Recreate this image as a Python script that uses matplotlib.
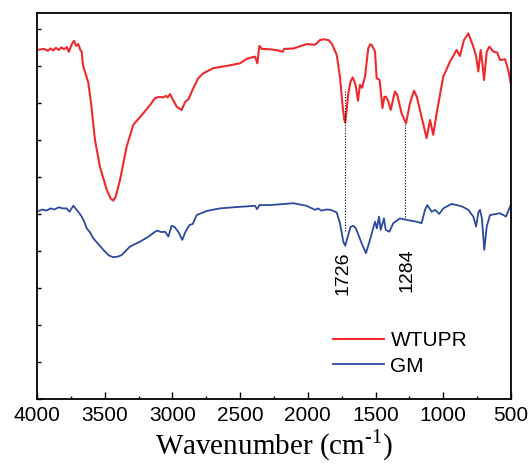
"""FTIR spectra of WTUPR and GM."""
import matplotlib
matplotlib.use("Agg")
import matplotlib.pyplot as plt
from matplotlib.ticker import MultipleLocator, NullFormatter

# ---------------------------------------------------------------------------
# Data (arbitrary transmittance units)
# ---------------------------------------------------------------------------

wtupr_wn = [4000, 3950, 3920, 3900, 3880, 3860, 3840, 3820, 3800, 3780, 3765, 3745,
            3727, 3710, 3695, 3680, 3670, 3665, 3658, 3640, 3621, 3600, 3572, 3535,
            3485, 3455, 3437, 3420, 3387, 3338, 3289, 3215, 3160, 3129, 3100, 3067,
            3050, 3035, 3018, 2995, 2969, 2950, 2932, 2907, 2880, 2846, 2809, 2772,
            2698, 2600, 2501, 2452, 2390, 2373, 2358, 2340, 2280, 2220, 2185, 2175,
            2107, 2009, 1947, 1910, 1880, 1849, 1824, 1787, 1763, 1743, 1730, 1724,
            1715, 1701, 1685, 1669, 1655, 1645, 1630, 1615, 1600, 1578, 1554, 1540,
            1529, 1504, 1492, 1470, 1449, 1435, 1423, 1405, 1388, 1357, 1340, 1308,
            1275, 1246, 1216, 1195, 1149, 1123, 1098, 1074, 1049, 1000, 950, 901,
            877, 847, 815, 778, 758, 741, 724, 710, 699, 679, 660, 630, 601, 581,
            544, 520, 500]
wtupr_t = [9.43, 9.46, 9.41, 9.47, 9.42, 9.49, 9.43, 9.50, 9.45, 9.51, 9.38, 9.57,
           9.68, 9.54, 9.59, 9.43, 9.39, 9.16, 8.98, 8.78, 8.54, 7.97, 7.00, 6.27,
           5.65, 5.41, 5.36, 5.46, 5.92, 6.82, 7.41, 7.72, 7.97, 8.13, 8.16, 8.15,
           8.19, 8.15, 8.24, 8.08, 7.90, 7.85, 7.81, 8.02, 8.11, 8.40, 8.67, 8.80,
           8.94, 9.00, 9.07, 9.19, 9.25, 9.07, 9.54, 9.46, 9.45, 9.42, 9.38, 9.46,
           9.47, 9.59, 9.57, 9.70, 9.72, 9.70, 9.61, 9.30, 8.71, 7.90, 7.54, 7.47,
           7.76, 8.26, 8.57, 8.69, 8.57, 8.44, 8.06, 8.49, 8.41, 8.71, 9.48, 9.58,
           9.57, 9.39, 8.67, 8.62, 7.86, 8.16, 8.17, 8.03, 7.81, 8.31, 8.22, 7.72,
           7.45, 7.99, 8.33, 8.16, 7.45, 7.05, 7.54, 7.14, 7.72, 8.71, 9.12, 9.43,
           9.27, 9.70, 9.88, 9.52, 9.27, 8.85, 9.43, 9.03, 8.62, 9.39, 9.52, 9.39,
           9.36, 9.16, 9.18, 8.89, 8.50]

gm_wn = [4000, 3960, 3930, 3900, 3870, 3840, 3810, 3781, 3760, 3732, 3700, 3670,
         3650, 3633, 3610, 3584, 3510, 3470, 3437, 3400, 3375, 3313, 3240, 3180,
         3116, 3080, 3055, 3030, 3006, 2985, 2957, 2927, 2905, 2875, 2850, 2821,
         2747, 2650, 2550, 2390, 2375, 2358, 2280, 2107, 2009, 1947, 1925, 1900,
         1860, 1830, 1787, 1763, 1738, 1724, 1705, 1685, 1664, 1645, 1603, 1571,
         1541, 1504, 1490, 1475, 1462, 1438, 1425, 1398, 1369, 1320, 1271, 1197,
         1160, 1135, 1118, 1086, 1060, 1030, 1000, 939, 900, 860, 815, 778, 758,
         740, 729, 715, 697, 679, 655, 581, 537, 502]
gm_t = [5.06, 5.12, 5.09, 5.15, 5.12, 5.18, 5.15, 5.15, 5.06, 5.22, 5.08, 4.93,
        4.78, 4.61, 4.51, 4.34, 4.03, 3.88, 3.83, 3.85, 3.89, 4.12, 4.25, 4.38,
        4.55, 4.51, 4.52, 4.39, 4.68, 4.65, 4.52, 4.30, 4.51, 4.70, 4.73, 4.97,
        5.08, 5.15, 5.18, 5.22, 5.13, 5.24, 5.24, 5.29, 5.22, 5.11, 5.15, 5.09,
        5.12, 5.11, 5.04, 4.75, 4.25, 4.14, 4.39, 4.65, 4.68, 4.61, 4.21, 3.94,
        4.30, 4.79, 4.61, 4.93, 4.57, 4.88, 4.57, 4.52, 4.75, 4.88, 4.84, 4.79,
        4.75, 5.11, 5.24, 5.06, 5.11, 5.00, 5.15, 5.27, 5.24, 5.20, 5.11, 4.93,
        4.66, 5.05, 5.11, 4.89, 4.03, 4.66, 4.97, 5.02, 4.93, 5.24]

# marked peaks: wavenumber, top and bottom of the dotted guide
peak_labels = ["1726", "1284"]
peak_wn = [1726, 1284]
peak_top = [8.38, 7.45]
peak_bottom = [4.55, 4.92]
label_wn = [1738, 1270]
label_y = [3.40, 3.47]

RED = "#EE2A2D"
BLUE = "#2D4A9E"

plt.rcParams["font.family"] = ["Liberation Sans", "DejaVu Sans"]
plt.rcParams["mathtext.fontset"] = "custom"
plt.rcParams["mathtext.rm"] = "Liberation Serif"

fig = plt.figure(figsize=(5.31, 4.66), dpi=100)
ax = fig.add_axes([0.0697, 0.1438, 0.8926, 0.8283])

ax.plot(wtupr_wn, wtupr_t, color=RED, linewidth=1.5, label="WTUPR")
ax.plot(gm_wn, gm_t, color=BLUE, linewidth=1.3, label="GM")

for wn, top, bot in zip(peak_wn, peak_top, peak_bottom):
    ax.plot([wn, wn], [bot, top], color="black", linestyle=(0, (1, 1.5)), linewidth=0.8)
for lbl, wn, y in zip(peak_labels, label_wn, label_y):
    ax.text(wn, y, lbl, rotation=90, ha="center", va="center", fontsize=14)

ax.set_xlim(4000, 500)
ax.set_ylim(0, 10.43)
ax.xaxis.set_major_locator(MultipleLocator(500))
ax.xaxis.set_minor_locator(MultipleLocator(250))
ax.yaxis.set_major_locator(MultipleLocator(1))
ax.yaxis.set_major_formatter(NullFormatter())
ax.tick_params(axis="x", which="major", direction="in", length=5, width=1,
               labelsize=15, pad=5)
ax.tick_params(axis="x", which="minor", direction="in", length=2.5, width=1)
ax.tick_params(axis="y", which="major", direction="in", length=3, width=1)
for sp in ax.spines.values():
    sp.set_linewidth(1.3)

ax.set_xlabel("Wavenumber (cm$^{\\text{-1}}$)", fontfamily="Liberation Serif",
              fontsize=21, labelpad=2)

ax.legend(loc="center left", bbox_to_anchor=(0.624, 0.118), frameon=False,
          fontsize=15, handlelength=2.45, handletextpad=0.32, labelspacing=0.3,
          borderpad=0, borderaxespad=0)

fig.savefig("out.png", dpi=100)
